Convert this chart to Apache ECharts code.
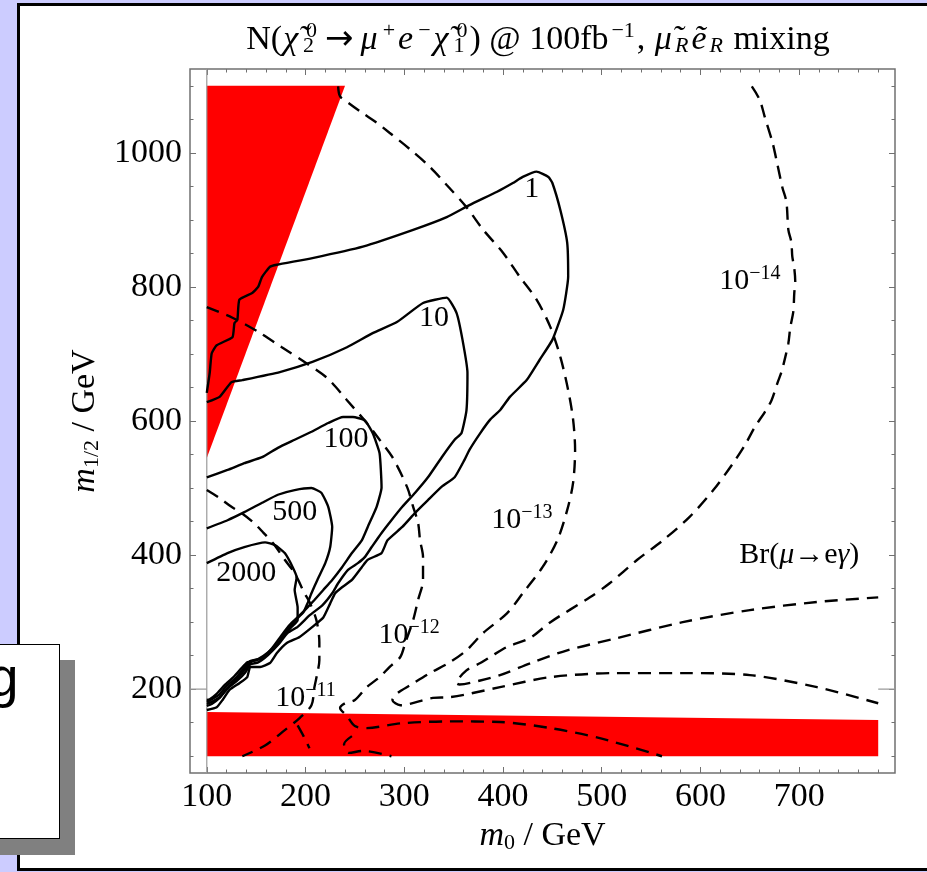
<!DOCTYPE html>
<html>
<head>
<meta charset="utf-8">
<script src="https://cdn.jsdelivr.net/npm/echarts@6/dist/echarts.min.js"></script>
<style>
html,body{margin:0;padding:0;width:927px;height:872px;overflow:hidden;background:#ccccff;}
#panel{position:absolute;left:17px;top:3px;width:1000px;height:862px;background:#fff;border-left:3px solid #000;border-top:3px solid #000;border-bottom:3px solid #000;}
#chart{position:absolute;left:0;top:0;width:927px;height:872px;}
#gbox{position:absolute;left:-20px;top:644px;width:78px;height:193px;background:#fff;border:1px solid #000;box-shadow:15px 16px 0 #808080;overflow:hidden;}
#gbox span{position:absolute;left:7px;top:5px;font-family:"Liberation Sans",Arial,sans-serif;font-size:55px;line-height:55px;color:#000;}
</style>
</head>
<body>
<div id="panel"></div>
<div id="chart"></div>
<div id="gbox"><span>g</span></div>
<script>
// ---- axes ----
const X_RANGE = [83, 797];
const Y_RANGE = [75, 1125];
const X_MAJOR = [100, 200, 300, 400, 500, 600, 700];
const X_MINOR = [120, 140, 160, 180, 220, 240, 260, 280, 320, 340, 360, 380, 420, 440, 460, 480,
                 520, 540, 560, 580, 620, 640, 660, 680, 720, 740, 760, 780];
const Y_MAJOR = [200, 400, 600, 800, 1000];
const Y_MINOR = [100, 150, 250, 300, 350, 450, 500, 550, 650, 700, 750, 850, 900, 950, 1050, 1100];
const AXIS_ORIGIN = [100, 200];
const DATA_X_EXTENT = [100, 780];

// ---- excluded (red) regions ----
const RED_TRIANGLE = [[100, 1100], [240, 1100], [100, 545]];
const RED_BAND = [[100, 166], [780, 154], [780, 100], [100, 100]];

// ---- N(chi2 -> mu e chi1) contours (solid) ----
const C1 = [[100,642],[103,672],[105,701],[110,713],[126,725],[128,746],[131,751],[133,781],[146,791],[152,800],[156,815],[164,830],[171,833],[207,843],[258,860],[309,885],[343,904],[366,922],[394,942],[410,955],[420,964],[434,972],[446,964],[450,955],[458,915],[465,866],[466,815],[461,766],[450,721],[437,691],[424,661],[407,636],[397,616],[387,602],[377,582],[366,557],[361,542],[351,516],[338,502],[324,482],[311,463],[298,442],[283,422],[277,403],[263,393],[257,382],[247,363],[237,352],[230,343],[225,328],[218,307],[207,293],[194,278],[181,269],[171,254],[164,239],[154,233],[144,233],[141,218],[133,209],[123,199],[116,184],[110,173],[100,169]];
const C10 = [[100,628],[113,636],[125,658],[136,661],[174,673],[207,688],[242,710],[268,731],[293,748],[319,776],[343,784],[353,761],[359,721],[364,672],[363,616],[358,582],[351,572],[338,546],[324,516],[311,493],[298,472],[287,452],[277,433],[267,412],[260,397],[253,388],[243,378],[233,358],[227,343],[217,325],[204,310],[192,293],[182,284],[172,266],[162,251],[152,240],[144,237],[139,225],[131,213],[121,201],[113,187],[105,178],[100,175]];
const C100 = [[100,516],[121,527],[138,537],[156,546],[172,560],[189,572],[206,584],[223,597],[238,606],[248,606],[260,601],[268,582],[275,552],[277,501],[272,472],[263,442],[257,422],[247,403],[237,382],[227,363],[218,348],[209,333],[202,322],[194,310],[184,296],[176,281],[166,261],[156,246],[146,242],[138,228],[130,215],[121,202],[113,188],[105,181],[100,178]];
const C500 = [[100,440],[121,452],[138,464],[156,478],[172,490],[189,497],[206,500],[216,493],[223,472],[227,442],[225,412],[220,388],[212,363],[206,343],[202,328],[198,315],[190,303],[181,288],[173,270],[162,255],[152,245],[144,242],[137,230],[129,216],[120,205],[112,191],[104,184],[100,181]];
const C2000 = [[100,388],[121,403],[138,412],[159,419],[169,415],[179,403],[187,382],[191,367],[189,348],[192,322],[192,303],[186,293],[178,279],[170,264],[160,251],[150,243],[141,240],[135,231],[127,218],[118,206],[110,193],[103,185],[100,184]];

// ---- Br(mu -> e gamma) contours (dashed) ----
const D11 = [[100,497],[113,485],[125,472],[135,463],[147,449],[157,434],[167,418],[179,393],[189,373],[199,343],[204,330],[211,303],[214,270],[214,243],[212,224],[209,203],[206,176],[194,157],[179,139],[159,116],[136,100]];
const D12 = [[100,770],[126,754],[152,733],[176,710],[199,688],[222,664],[242,631],[262,597],[275,572],[288,546],[303,501],[309,472],[314,448],[316,422],[319,397],[319,363],[314,333],[309,303],[301,269],[296,248],[285,233],[275,218],[262,203],[250,184],[240,179],[235,172],[242,160],[250,145],[262,142],[296,149],[346,152],[397,151],[448,142],[498,127],[561,100]];
const D13 = [[233,1099],[235,1084],[243,1075],[257,1060],[272,1045],[285,1030],[306,1005],[326,979],[343,952],[363,919],[380,885],[400,851],[417,815],[434,781],[448,740],[458,696],[466,646],[471,602],[473,557],[471,508],[465,467],[455,422],[440,382],[420,343],[404,313],[380,284],[363,258],[346,240],[326,224],[306,206],[293,194],[288,184],[296,176],[329,187],[346,188],[397,203],[448,218],[515,224],[582,224],[650,221],[718,203],[780,179]];
const D14 = [[652,1099],[660,1079],[665,1054],[673,1015],[678,982],[683,948],[687,927],[689,885],[692,867],[693,845],[695,828],[696,807],[695,791],[694,763],[691,740],[689,716],[686,696],[682,673],[678,657],[672,631],[665,613],[655,591],[645,564],[633,537],[613,497],[589,457],[562,422],[536,393],[508,358],[488,337],[448,300],[427,276],[404,263],[387,248],[377,239],[363,228],[353,209],[356,207],[377,213],[397,221],[430,240],[465,258],[515,276],[582,300],[650,318],[718,330],[780,337]];
const D10A = [[192,146],[198,130],[204,112]];
const D10B = [[247,130],[239,118],[244,105],[258,108],[287,100]];

// ---- in-plot labels (text, data position) ----
const CONTOUR_LABELS = [
  {text: '{n|1}', at: [429, 946]},
  {text: '{n|10}', at: [330, 754]},
  {text: '{n|100}', at: [241, 573]},
  {text: '{n|500}', at: [189, 464]},
  {text: '{n|2000}', at: [140, 373]},
  {text: '{n|10}{s|−12}', at: [305, 281]},
  {text: '{n|10}{s|−11}', at: [200, 187]},
  {text: '{n|10}{s|−13}', at: [419, 452]},
  {text: '{n|10}{s|−14}', at: [650, 809]},
  {text: '{n|Br(}{it|μ}{n|→e}{it|γ}{n|)}', at: [700, 400]}
];

const TITLE = '{r|N(}{i|χ\u0303}{z|2}{p|0}{a|→}{i|μ}{p|+}{i|e}{p|−}{i|χ\u0303}{z|1}{p|0}{r|) @ 100fb}{p|−1}{r|, }{i|μ\u0303}{q|R}{i|ẽ}{q|R}{r| mixing}';
const X_NAME = '{i|m}{s|0}{n| / GeV}';
const Y_NAME = '{i|m}{s|1/2}{n| / GeV}';

const SERIF = '"Liberation Serif","DejaVu Serif","Times New Roman",serif';
const FRAME = '#707070';

function tok(size, italic, pad, extra) {
  return Object.assign({fontFamily: SERIF, fontSize: size, fontStyle: italic ? 'italic' : 'normal',
    color: '#000', fill: '#000', align: 'left', padding: pad || [0, 0, 0, 0],
    textBorderWidth: 0}, extra || {});
}

function xAx(pos, ticks, len, labels) {
  return {
    type: 'value', position: pos, min: X_RANGE[0], max: X_RANGE[1],
    axisLine: {show: false}, splitLine: {show: false},
    axisTick: {show: true, inside: true, length: len, customValues: ticks, lineStyle: {color: FRAME, width: 1}},
    axisLabel: labels ? {show: true, customValues: ticks, margin: 7, color: '#000', fontFamily: SERIF, fontSize: 34,
      formatter: v => String(v)} : {show: false},
    name: labels ? X_NAME : '', nameLocation: 'middle', nameGap: 35,
    nameTextStyle: {fontFamily: SERIF, fontSize: 34, color: '#000',
      rich: {i: tok(34, true), s: tok(22, false, [14, 0, 0, 0]), n: tok(34, false)}}
  };
}
function yAx(pos, ticks, len, labels) {
  return {
    type: 'value', position: pos, min: Y_RANGE[0], max: Y_RANGE[1],
    axisLine: {show: false}, splitLine: {show: false},
    axisTick: {show: true, inside: true, length: len, customValues: ticks, lineStyle: {color: FRAME, width: 1}},
    axisLabel: labels ? {show: true, customValues: ticks, margin: 8, color: '#000', fontFamily: SERIF, fontSize: 34,
      formatter: v => String(v)} : {show: false},
    name: labels ? Y_NAME : '', nameLocation: 'middle', nameGap: 78, nameRotate: 90,
    nameTextStyle: {fontFamily: SERIF, fontSize: 34, color: '#000',
      rich: {i: tok(34, true), s: tok(22, false, [14, 0, 0, 0]), n: tok(34, false)}}
  };
}

function contour(data, dashed) {
  return {
    type: 'line', data: data, showSymbol: false, symbol: 'none', silent: true,
    smooth: dashed ? 0.3 : 0.15, z: 3,
    lineStyle: {color: '#000', width: 2.4, type: dashed ? [13, 8] : 'solid', cap: 'butt'}
  };
}
function plain(data, color, width) {
  return {type: 'line', data: data, showSymbol: false, symbol: 'none', silent: true, z: 2,
    lineStyle: {color: color, width: width}};
}

const REGIONS = [RED_TRIANGLE, RED_BAND];

const option = {
  animation: false,
  textStyle: {fontFamily: SERIF},
  grid: {left: 190, top: 69, width: 705, height: 704, show: true, borderColor: FRAME, borderWidth: 1.5, backgroundColor: 'transparent'},
  xAxis: [xAx('bottom', X_MAJOR, 6, true), xAx('bottom', X_MINOR, 3.5, false), xAx('top', X_MAJOR, 6, false), xAx('top', X_MINOR, 3.5, false)],
  yAxis: [yAx('left', Y_MAJOR, 6, true), yAx('left', Y_MINOR, 3.5, false), yAx('right', Y_MAJOR, 6, false), yAx('right', Y_MINOR, 3.5, false)],
  graphic: [{
    type: 'text', x: 538, y: 40, z: 10,
    style: {
      text: TITLE, align: 'center', verticalAlign: 'middle', fill: '#000',
      fontFamily: SERIF, fontSize: 34,
      rich: {
        r: tok(34, false),
        i: tok(34, true, [0, 2, 0, 1]),
        a: tok(34, false, [0, 6, 0, 6], {fontFamily: '"DejaVu Sans",sans-serif'}),
        z: tok(22, false, [12, 0, 0, 3], {width: 0}),
        p: tok(22, false, [0, 2, 18, 3]),
        q: tok(22, true, [12, 2, 0, 1])
      }
    }
  }],
  series: [
    {
      type: 'custom', silent: true, z: 1,
      data: REGIONS.map(r => r[0]),
      renderItem: (params, api) => ({
        type: 'polygon',
        shape: {points: REGIONS[params.dataIndex].map(p => api.coord(p))},
        style: {fill: '#ff0000'}
      })
    },
    plain([[AXIS_ORIGIN[0], Y_RANGE[0]], [AXIS_ORIGIN[0], Y_RANGE[1]]], '#9a9a9a', 1.2),
    plain([[X_RANGE[0], AXIS_ORIGIN[1]], [DATA_X_EXTENT[0], AXIS_ORIGIN[1]]], '#9a9a9a', 1.2),
    plain([[DATA_X_EXTENT[1], AXIS_ORIGIN[1]], [X_RANGE[1], AXIS_ORIGIN[1]]], '#9a9a9a', 1.2),
    contour(C1, false), contour(C10, false), contour(C100, false), contour(C500, false), contour(C2000, false),
    contour(D11, true), contour(D12, true), contour(D13, true), contour(D14, true),
    contour(D10A, true), contour(D10B, true),
    {
      type: 'scatter', silent: true, z: 5, symbol: 'circle', symbolSize: 0.1,
      itemStyle: {color: '#000', opacity: 1},
      data: CONTOUR_LABELS.map(l => ({value: l.at, label: {formatter: l.text}})),
      label: {
        show: true, position: 'inside', color: '#000', fontFamily: SERIF, fontSize: 30,
        textBorderWidth: 0, textBorderColor: 'transparent',
        rich: {n: tok(30, false), it: tok(30, true), s: tok(20, false, [0, 0, 15, 0])}
      }
    }
  ]
};

const chart = echarts.init(document.getElementById('chart'), null, {renderer: 'canvas'});
chart.setOption(option);
</script>
</body>
</html>
